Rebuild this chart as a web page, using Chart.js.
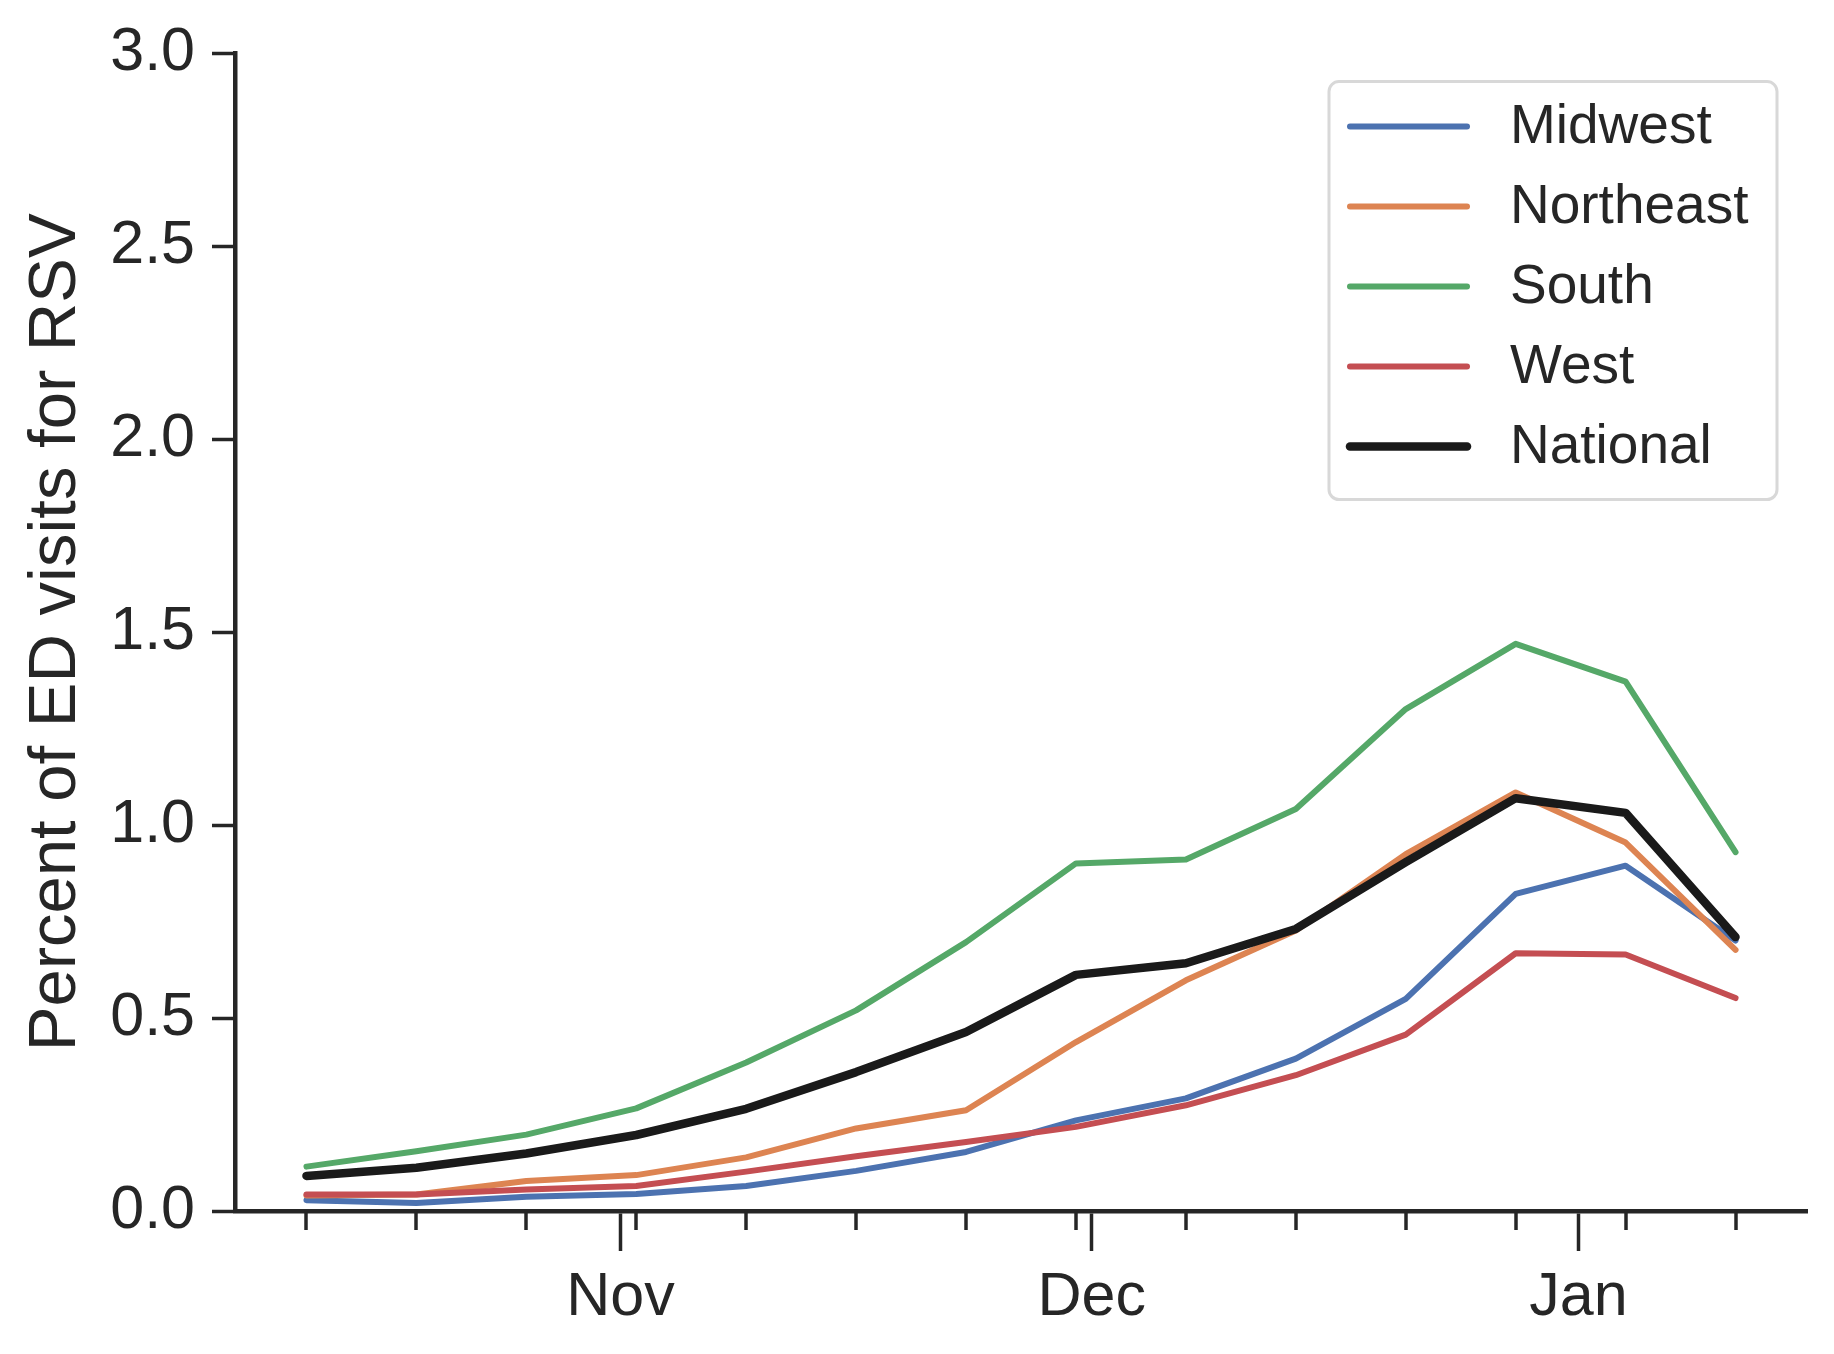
<!DOCTYPE html>
<html>
<head>
<meta charset="utf-8">
<script src="https://cdn.jsdelivr.net/npm/chart.js@4.4.0/dist/chart.umd.min.js"></script>
<style>
  html, body { margin: 0; padding: 0; background: #fff; }
</style>
</head>
<body>
<canvas id="rsvChart" width="1834" height="1354"></canvas>
<script>
// weekly percent of ED visits for RSV, by region
var weekDates = ['2022-10-12', '2022-10-19', '2022-10-26', '2022-11-02', '2022-11-09', '2022-11-16', '2022-11-23',
                 '2022-11-30', '2022-12-07', '2022-12-14', '2022-12-21', '2022-12-28', '2023-01-04', '2023-01-11'];
var midwest   = [0.028, 0.021, 0.037, 0.044, 0.065, 0.104, 0.153, 0.235, 0.292, 0.395, 0.550, 0.822, 0.895, 0.701];
var northeast = [0.040, 0.043, 0.078, 0.093, 0.139, 0.214, 0.261, 0.438, 0.598, 0.727, 0.925, 1.085, 0.955, 0.677];
var south     = [0.115, 0.155, 0.198, 0.266, 0.385, 0.520, 0.697, 0.901, 0.911, 1.042, 1.301, 1.470, 1.372, 0.930];
var west      = [0.043, 0.043, 0.056, 0.065, 0.102, 0.142, 0.179, 0.218, 0.274, 0.352, 0.457, 0.668, 0.665, 0.552];
var national  = [0.091, 0.112, 0.149, 0.197, 0.265, 0.360, 0.464, 0.612, 0.642, 0.731, 0.904, 1.070, 1.032, 0.710];

var monthDates  = ['2022-11-01', '2022-12-01', '2023-01-01'];
var monthLabels = ['Nov', 'Dec', 'Jan'];
var yTicks = [0, 0.5, 1.0, 1.5, 2.0, 2.5, 3.0];

var FONT = "'Liberation Sans', Arial, sans-serif";
var INK = '#262626';

function toDay(s) {
  return Date.parse(s + 'T00:00:00Z') / 86400000;
}

var days = weekDates.map(toDay);
var monthDays = monthDates.map(toDay);

function pts(vals) {
  var out = [];
  for (var i = 0; i < vals.length; i++) {
    out.push({ x: days[i], y: vals[i] });
  }
  return out;
}

// matplotlib-like 5% margins on x
var span = days[days.length - 1] - days[0];
var xMin = days[0] - 0.05 * span;
var xMax = days[days.length - 1] + 0.05 * span;

// weekly minor ticks + matplotlib style legend box
var extras = {
  id: 'extras',
  afterDraw: function(chart) {
    var ctx = chart.ctx;
    var area = chart.chartArea;
    var xs = chart.scales.x;

    ctx.save();
    ctx.strokeStyle = INK;
    ctx.lineWidth = 3.5;
    for (var i = 0; i < days.length; i++) {
      var px = Math.round(xs.getPixelForValue(days[i]));
      ctx.beginPath();
      ctx.moveTo(px, area.bottom);
      ctx.lineTo(px, area.bottom + 19);
      ctx.stroke();
    }
    ctx.restore();

    // legend
    var sets = chart.data.datasets;
    var bw = 448, bh = 418;
    var bx = area.right - 30 - bw;
    var by = area.top + 28;
    ctx.save();
    ctx.beginPath();
    ctx.roundRect(bx, by, bw, bh, 10);
    ctx.fillStyle = 'rgba(255,255,255,0.8)';
    ctx.fill();
    ctx.lineWidth = 3;
    ctx.strokeStyle = '#d8d8d8';
    ctx.stroke();

    ctx.font = '55px ' + FONT;
    ctx.textBaseline = 'middle';
    ctx.textAlign = 'left';
    ctx.lineCap = 'round';
    for (var j = 0; j < sets.length; j++) {
      var ry = by + 45 + j * 80;
      ctx.beginPath();
      ctx.strokeStyle = sets[j].borderColor;
      ctx.lineWidth = sets[j].borderWidth;
      ctx.moveTo(bx + 21, ry);
      ctx.lineTo(bx + 138, ry);
      ctx.stroke();
      ctx.fillStyle = INK;
      ctx.fillText(sets[j].label, bx + 181, ry + 1);
    }
    ctx.restore();
  }
};

function line(label, vals, color, width, order) {
  return {
    label: label,
    data: pts(vals),
    borderColor: color,
    backgroundColor: color,
    borderWidth: width,
    pointRadius: 0,
    tension: 0,
    fill: false,
    borderCapStyle: 'round',
    borderJoinStyle: 'round',
    order: order
  };
}

var ctx = document.getElementById('rsvChart');

var chart = new Chart(ctx, {
  type: 'line',
  data: {
    datasets: [
      line('Midwest', midwest, '#4C72B0', 6, 4),
      line('Northeast', northeast, '#DD8452', 6, 3),
      line('South', south, '#55A868', 6, 2),
      line('West', west, '#C44E52', 6, 1),
      line('National', national, '#1a1a1a', 8.5, 0)
    ]
  },
  options: {
    responsive: false,
    devicePixelRatio: 1,
    animation: false,
    layout: { padding: { top: 51, right: 27, left: 0, bottom: 0 } },
    plugins: {
      legend: { display: false },
      tooltip: { enabled: false }
    },
    scales: {
      x: {
        type: 'linear',
        min: xMin,
        max: xMax,
        afterFit: function(scale) { scale.height = 143; },
        afterBuildTicks: function(scale) {
          scale.ticks = monthDays.map(function(v) { return { value: v }; });
        },
        ticks: {
          autoSkip: false,
          maxRotation: 0,
          padding: 11,
          color: INK,
          font: { family: FONT, size: 61 },
          callback: function(v) {
            var k = monthDays.indexOf(v);
            return k >= 0 ? monthLabels[k] : '';
          }
        },
        grid: {
          drawOnChartArea: false,
          tickLength: 40,
          tickWidth: 3.5,
          tickColor: INK
        },
        border: { display: true, color: INK, width: 4.5 }
      },
      y: {
        min: 0,
        max: 3,
        afterFit: function(scale) { scale.width = 235; },
        afterBuildTicks: function(scale) {
          scale.ticks = yTicks.map(function(v) { return { value: v }; });
        },
        ticks: {
          padding: 17,
          color: INK,
          font: { family: FONT, size: 61 },
          callback: function(v) { return Number(v).toFixed(1); }
        },
        grid: {
          drawOnChartArea: false,
          tickLength: 23,
          tickWidth: 3.5,
          tickColor: INK
        },
        border: { display: true, color: INK, width: 4.5 },
        title: {
          display: true,
          text: 'Percent of ED visits for RSV',
          color: INK,
          font: { family: FONT, size: 67, weight: 'normal' },
          padding: { top: 16, bottom: 0 }
        }
      }
    }
  },
  plugins: [extras]
});
</script>
</body>
</html>
